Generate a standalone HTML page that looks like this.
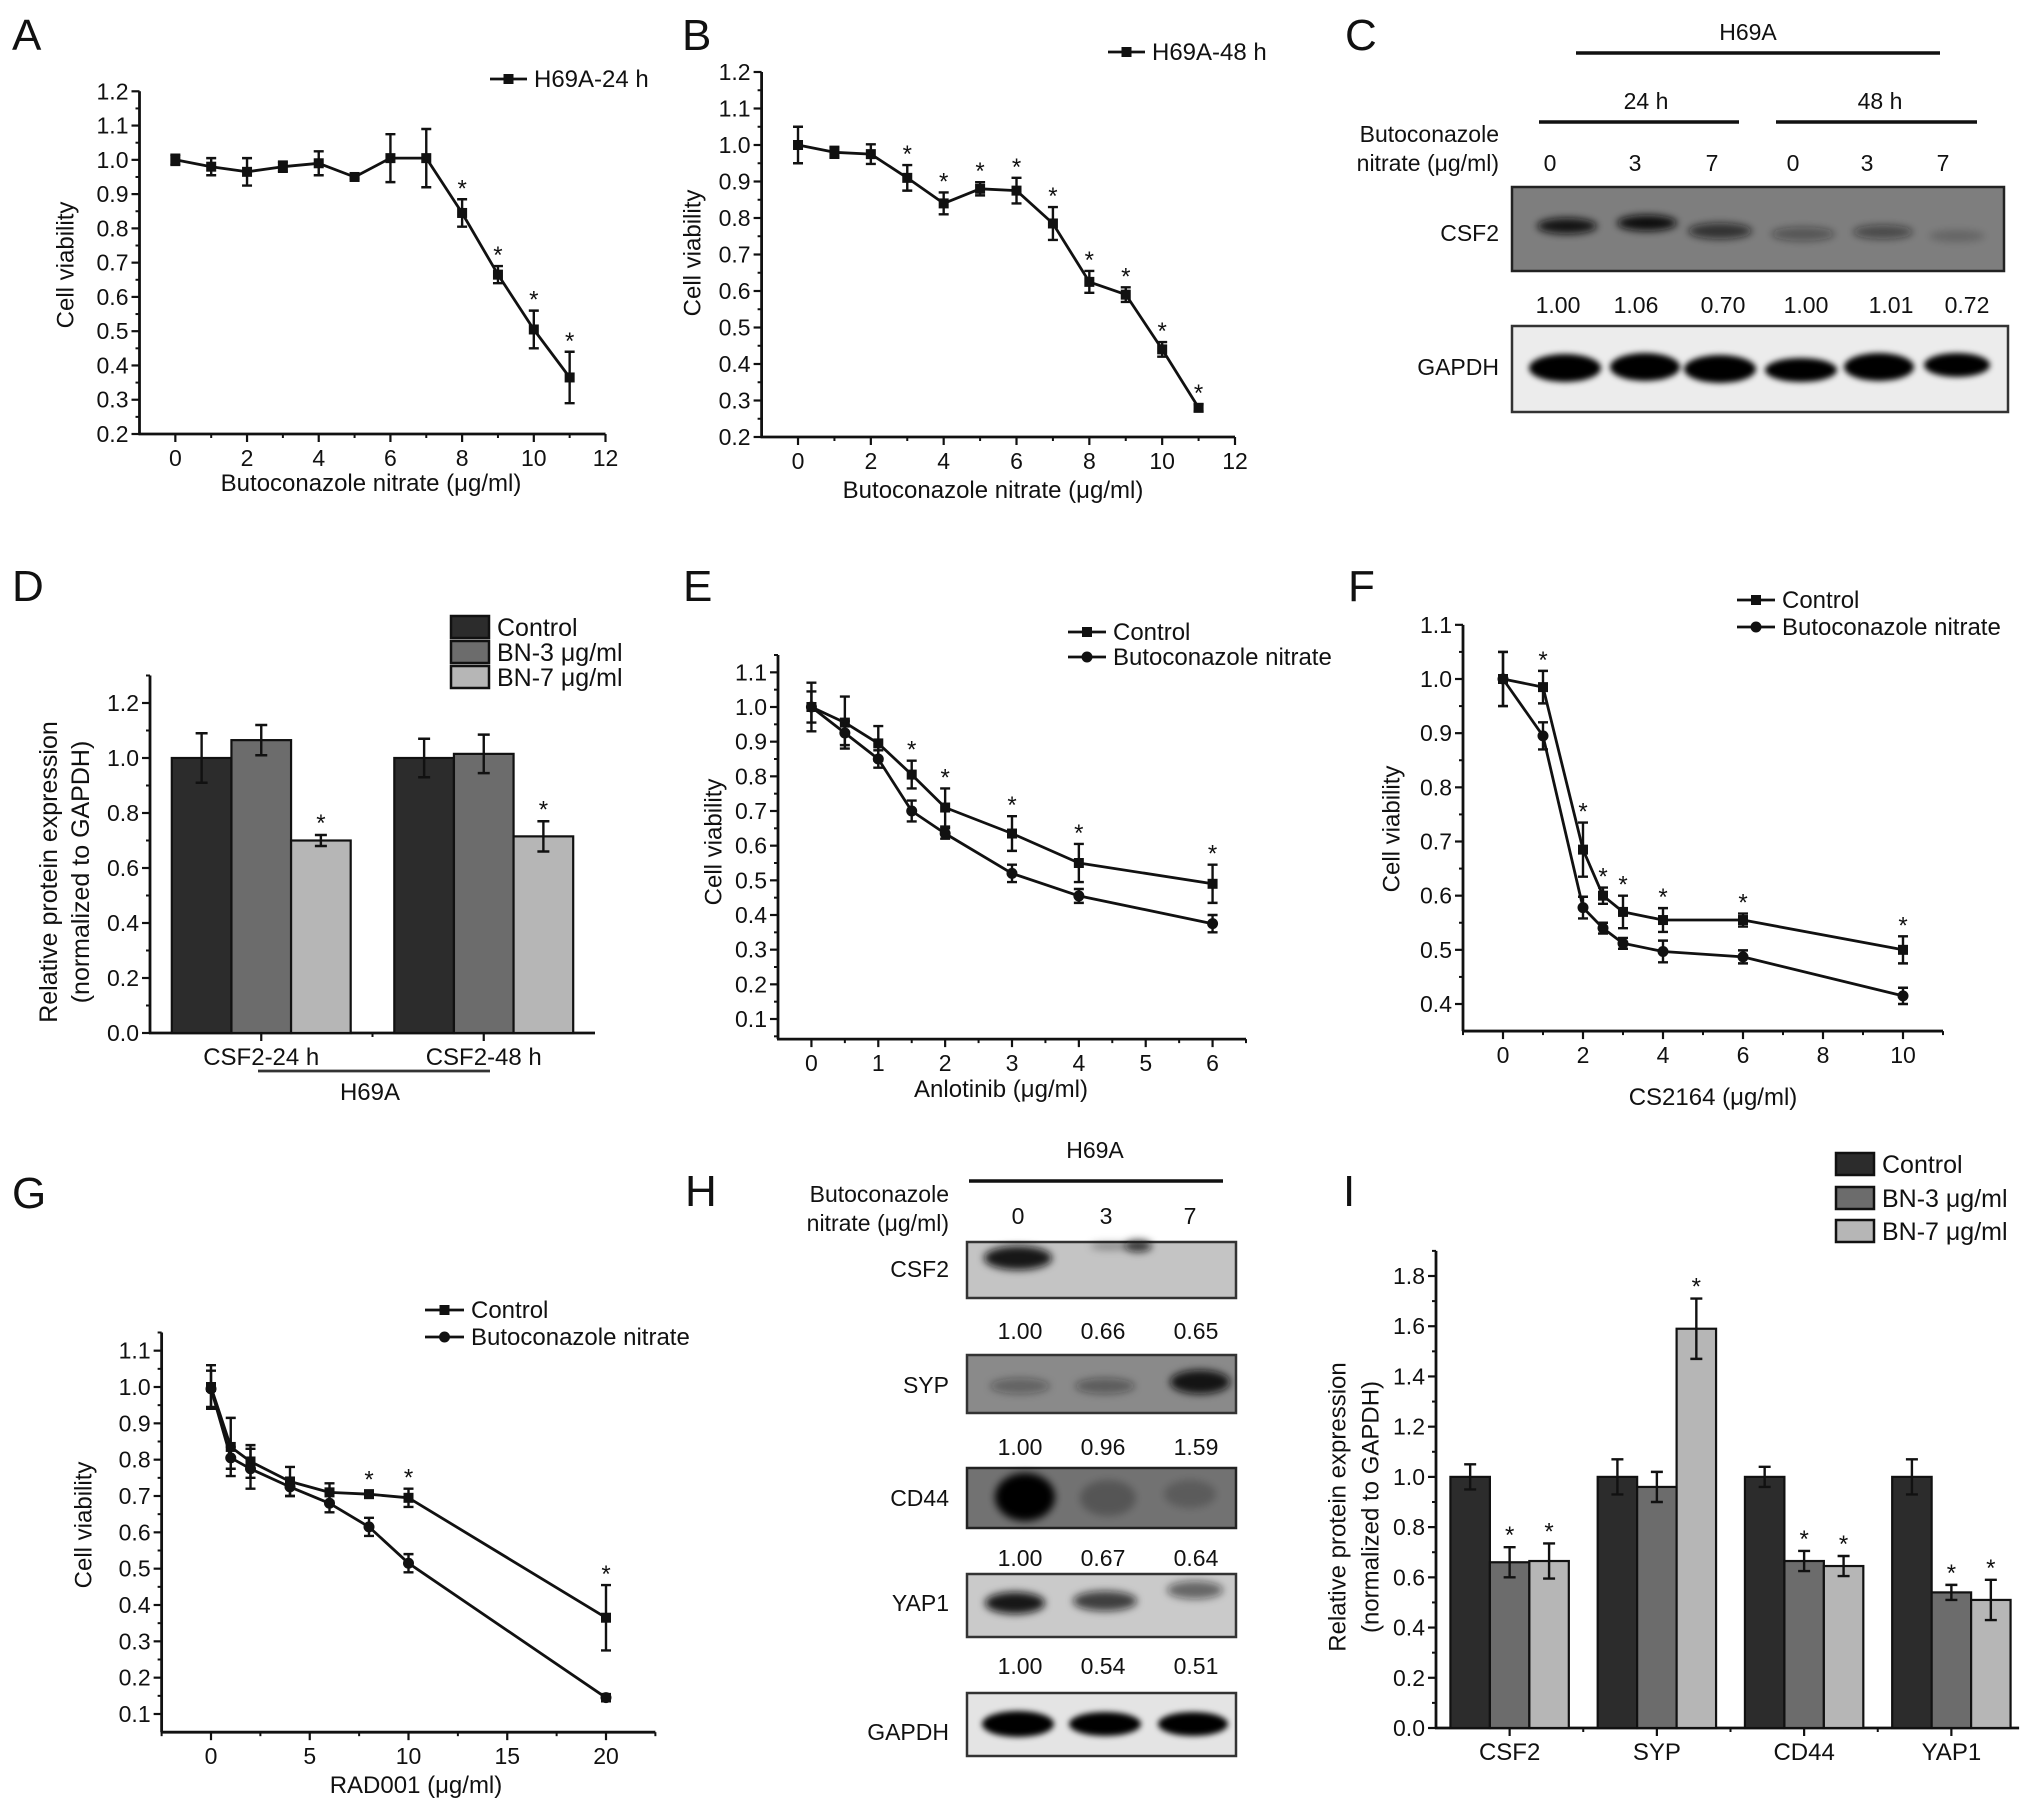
<!DOCTYPE html>
<html><head><meta charset="utf-8">
<style>
body{margin:0;background:#fff;}
svg{display:block;font-family:"Liberation Sans",Arial,sans-serif;}
</style></head>
<body>
<svg id="fig" width="2032" height="1802" viewBox="0 0 2032 1802">
<defs>
<filter id="blur4" x="-50%" y="-50%" width="200%" height="200%"><feGaussianBlur stdDeviation="4"/></filter>
<filter id="blur3" x="-50%" y="-50%" width="200%" height="200%"><feGaussianBlur stdDeviation="3"/></filter>
<filter id="blur6" x="-50%" y="-50%" width="200%" height="200%"><feGaussianBlur stdDeviation="6"/></filter>
</defs>
<rect x="0" y="0" width="2032" height="1802" fill="#fff"/>

<g font-size="44" fill="#111">
<text x="12" y="50">A</text>
<text x="682" y="50">B</text>
<text x="1345" y="50">C</text>
<text x="12" y="601">D</text>
<text x="683" y="601">E</text>
<text x="1348" y="601">F</text>
<text x="12" y="1208">G</text>
<text x="685" y="1206">H</text>
<text x="1343" y="1206">I</text>
</g>

<g font-size="23" fill="#111">
<text x="1748" y="40" text-anchor="middle">H69A</text>
<line x1="1576" y1="53" x2="1940" y2="53" stroke="#111" stroke-width="3.5"/>
<text x="1646" y="109" text-anchor="middle">24 h</text>
<text x="1880" y="109" text-anchor="middle">48 h</text>
<line x1="1539" y1="122" x2="1739" y2="122" stroke="#111" stroke-width="3.5"/>
<line x1="1776" y1="122" x2="1977" y2="122" stroke="#111" stroke-width="3.5"/>
<text x="1499" y="142" text-anchor="end">Butoconazole</text>
<text x="1499" y="171" text-anchor="end">nitrate (μg/ml)</text>
<g text-anchor="middle">
<text x="1550" y="171">0</text><text x="1635" y="171">3</text><text x="1712" y="171">7</text>
<text x="1793" y="171">0</text><text x="1867" y="171">3</text><text x="1943" y="171">7</text>
</g>
<rect x="1512" y="187" width="492" height="84" fill="#7e7e7e" stroke="#222" stroke-width="2.5"/>
<g filter="url(#blur4)" fill="#111">
<ellipse cx="1567" cy="226" rx="30" ry="8" opacity="0.95"/>
<ellipse cx="1647" cy="223" rx="30" ry="8" opacity="1"/>
<ellipse cx="1720" cy="231" rx="32" ry="8" opacity="0.7"/>
<ellipse cx="1803" cy="234" rx="32" ry="7" opacity="0.4"/>
<ellipse cx="1883" cy="232" rx="30" ry="7" opacity="0.5"/>
<ellipse cx="1957" cy="236" rx="28" ry="6" opacity="0.2"/>
</g>
<text x="1499" y="241" text-anchor="end">CSF2</text>
<g text-anchor="middle">
<text x="1558" y="313">1.00</text><text x="1636" y="313">1.06</text><text x="1723" y="313">0.70</text>
<text x="1806" y="313">1.00</text><text x="1891" y="313">1.01</text><text x="1967" y="313">0.72</text>
</g>
<rect x="1512" y="326" width="496" height="86" fill="#ececec" stroke="#333" stroke-width="2.5"/>
<g filter="url(#blur3)" fill="#000">
<ellipse cx="1565" cy="368" rx="36" ry="14"/>
<ellipse cx="1645" cy="367" rx="35" ry="14"/>
<ellipse cx="1720" cy="369" rx="36" ry="14"/>
<ellipse cx="1801" cy="370" rx="36" ry="12"/>
<ellipse cx="1879" cy="367" rx="35" ry="14"/>
<ellipse cx="1957" cy="365" rx="33" ry="12"/>
</g>
<text x="1499" y="375" text-anchor="end">GAPDH</text>
</g>

<g font-size="23" fill="#111">
<text x="1095" y="1158" text-anchor="middle">H69A</text>
<line x1="969" y1="1181" x2="1223" y2="1181" stroke="#111" stroke-width="3.5"/>
<text x="949" y="1202" text-anchor="end">Butoconazole</text>
<text x="949" y="1231" text-anchor="end">nitrate (μg/ml)</text>
<g text-anchor="middle">
<text x="1018" y="1224">0</text><text x="1106" y="1224">3</text><text x="1190" y="1224">7</text>
</g>
<rect x="967" y="1242" width="269" height="56" fill="#c4c4c4" stroke="#333" stroke-width="2.5"/>
<g filter="url(#blur4)" fill="#111">
<ellipse cx="1018" cy="1258" rx="34" ry="12" opacity="0.95"/>
<ellipse cx="1138" cy="1246" rx="14" ry="6" opacity="0.8"/>
<ellipse cx="1110" cy="1246" rx="20" ry="4" opacity="0.3"/>
</g>
<text x="949" y="1277" text-anchor="end">CSF2</text>
<g text-anchor="middle"><text x="1020" y="1339">1.00</text><text x="1103" y="1339">0.66</text><text x="1196" y="1339">0.65</text></g>
<rect x="967" y="1355" width="269" height="58" fill="#8a8a8a" stroke="#333" stroke-width="2.5"/>
<g filter="url(#blur4)" fill="#111">
<ellipse cx="1020" cy="1386" rx="30" ry="8" opacity="0.35"/>
<ellipse cx="1105" cy="1386" rx="30" ry="8" opacity="0.4"/>
<ellipse cx="1200" cy="1382" rx="30" ry="12" opacity="0.95"/>
</g>
<text x="949" y="1393" text-anchor="end">SYP</text>
<g text-anchor="middle"><text x="1020" y="1455">1.00</text><text x="1103" y="1455">0.96</text><text x="1196" y="1455">1.59</text></g>
<rect x="967" y="1468" width="269" height="60" fill="#727272" stroke="#222" stroke-width="2.5"/>
<g filter="url(#blur4)" fill="#000">
<ellipse cx="1025" cy="1497" rx="30" ry="24" opacity="1"/>
<ellipse cx="1108" cy="1498" rx="28" ry="18" opacity="0.25"/>
<ellipse cx="1190" cy="1494" rx="26" ry="14" opacity="0.2"/>
</g>
<text x="949" y="1506" text-anchor="end">CD44</text>
<g text-anchor="middle"><text x="1020" y="1566">1.00</text><text x="1103" y="1566">0.67</text><text x="1196" y="1566">0.64</text></g>
<rect x="967" y="1574" width="269" height="63" fill="#cacaca" stroke="#333" stroke-width="2.5"/>
<g filter="url(#blur4)" fill="#111">
<ellipse cx="1015" cy="1603" rx="30" ry="11" opacity="0.95"/>
<ellipse cx="1105" cy="1601" rx="32" ry="10" opacity="0.75"/>
<ellipse cx="1195" cy="1590" rx="28" ry="9" opacity="0.55"/>
</g>
<text x="949" y="1611" text-anchor="end">YAP1</text>
<g text-anchor="middle"><text x="1020" y="1674">1.00</text><text x="1103" y="1674">0.54</text><text x="1196" y="1674">0.51</text></g>
<rect x="967" y="1693" width="269" height="63" fill="#e4e4e4" stroke="#333" stroke-width="2.5"/>
<g filter="url(#blur3)" fill="#000">
<ellipse cx="1018" cy="1724" rx="36" ry="13"/>
<ellipse cx="1105" cy="1724" rx="36" ry="12"/>
<ellipse cx="1193" cy="1724" rx="35" ry="12"/>
</g>
<text x="949" y="1740" text-anchor="end">GAPDH</text>
</g>
</svg>

<script>
// ---------- Panel A data ----------
const aDose = [0,1,2,3,4,5,6,7,8,9,10,11];
const aViab = [1.0,0.98,0.965,0.98,0.99,0.95,1.005,1.005,0.845,0.665,0.505,0.365];
const aErr = [0.015,0.025,0.04,0.015,0.035,0.005,0.07,0.085,0.04,0.025,0.055,0.075];
const aStars = [8,9,10,11];
const aYTicks = ['0.2','0.3','0.4','0.5','0.6','0.7','0.8','0.9','1.0','1.1','1.2'];
const aXTicks = ['0','2','4','6','8','10','12'];
// ---------- Panel B data ----------
const bDose = [0,1,2,3,4,5,6,7,8,9,10,11];
const bViab = [1.0,0.98,0.975,0.91,0.84,0.88,0.875,0.785,0.625,0.59,0.44,0.28];
const bErr = [0.05,0.015,0.027,0.035,0.03,0.018,0.035,0.045,0.03,0.02,0.02,0.01];
const bStars = [3,4,5,6,7,8,9,10,11];
const bYTicks = ['0.2','0.3','0.4','0.5','0.6','0.7','0.8','0.9','1.0','1.1','1.2'];
const bXTicks = ['0','2','4','6','8','10','12'];
// ---------- Panel D data ----------
const dGroups = ['CSF2-24 h','CSF2-48 h'];
const dControl = [1.0,1.0];
const dBN3 = [1.065,1.015];
const dBN7 = [0.70,0.715];
const dControlErr = [0.09,0.07];
const dBN3Err = [0.055,0.07];
const dBN7Err = [0.02,0.055];
const dBN3Star = [0,0];
const dBN7Star = [1,1];
const dYTicks = ['0.0','0.2','0.4','0.6','0.8','1.0','1.2'];
// ---------- Panel E data ----------
const eDose = [0,0.5,1,1.5,2,3,4,6];
const eControl = [1.0,0.955,0.895,0.805,0.71,0.635,0.55,0.49];
const eControlErr = [0.07,0.075,0.05,0.04,0.055,0.05,0.055,0.055];
const eBN = [1.0,0.925,0.85,0.70,0.635,0.52,0.455,0.375];
const eBNErr = [0.045,0.035,0.025,0.03,0.015,0.025,0.02,0.025];
const eStars = [1.5,2,3,4,6];
const eYTicks = ['0.1','0.2','0.3','0.4','0.5','0.6','0.7','0.8','0.9','1.0','1.1'];
const eXTicks = ['0','1','2','3','4','5','6'];
// ---------- Panel F data ----------
const fDose = [0,1,2,2.5,3,4,6,10];
const fControl = [1.0,0.985,0.685,0.60,0.57,0.555,0.555,0.50];
const fControlErr = [0.05,0.03,0.05,0.015,0.03,0.022,0.012,0.025];
const fBN = [1.0,0.895,0.578,0.54,0.512,0.497,0.487,0.415];
const fBNErr = [0.05,0.025,0.02,0.01,0.01,0.02,0.012,0.015];
const fStars = [1,2,2.5,3,4,6,10];
const fYTicks = ['0.4','0.5','0.6','0.7','0.8','0.9','1.0','1.1'];
const fXTicks = ['0','2','4','6','8','10'];
// ---------- Panel G data ----------
const gDose = [0,1,2,4,6,8,10,20];
const gControl = [1.0,0.835,0.795,0.74,0.71,0.705,0.695,0.365];
const gControlErr = [0.06,0.08,0.045,0.04,0.025,0.01,0.025,0.09];
const gBN = [0.995,0.805,0.775,0.725,0.68,0.615,0.515,0.145];
const gBNErr = [0.05,0.03,0.055,0.025,0.025,0.025,0.025,0.01];
const gStars = [8,10,20];
const gYTicks = ['0.1','0.2','0.3','0.4','0.5','0.6','0.7','0.8','0.9','1.0','1.1'];
const gXTicks = ['0','5','10','15','20'];
// ---------- Panel I data ----------
const iGenes = ['CSF2','SYP','CD44','YAP1'];
const iControl = [1.0,1.0,1.0,1.0];
const iBN3 = [0.66,0.96,0.665,0.54];
const iBN7 = [0.665,1.59,0.645,0.51];
const iControlErr = [0.05,0.07,0.04,0.07];
const iBN3Err = [0.06,0.06,0.04,0.03];
const iBN7Err = [0.07,0.12,0.04,0.08];
const iBN3Star = [1,0,1,1];
const iBN7Star = [1,1,1,1];
const iYTicks = ['0.0','0.2','0.4','0.6','0.8','1.0','1.2','1.4','1.6','1.8'];

const NS = 'http://www.w3.org/2000/svg';
const fig = document.getElementById('fig');
const TICK = 23, TITLE = 24, LEG = 24;
function lin(d0,p0,d1,p1){ return v => p0 + (v-d0)*(p1-p0)/(d1-d0); }
function mk(parent, tag, attrs){
  const e = document.createElementNS(NS, tag);
  for (const k in attrs) e.setAttribute(k, attrs[k]);
  parent.appendChild(e);
  return e;
}
function txt(parent, x, y, s, size, anchor){
  const t = mk(parent, 'text', {x:x, y:y, 'font-size':size, 'text-anchor':anchor||'start', fill:'#111'});
  t.textContent = s;
  return t;
}
function group(name){
  const g = mk(fig, 'g', {});
  
  
  return g;
}
function rng(a,b,s){ const r=[]; for(let v=a; v<=b+1e-9; v+=s) r.push(Math.round(v*1000)/1000); return r; }

function axes(g, o){
  const ax = o.sx(o.x0), ay = o.sy(o.y0);
  const yl = mk(g,'line',{x1:ax,y1:o.sy(o.y1),x2:ax,y2:ay,stroke:'#111','stroke-width':2.8});
  
  
  const xl = mk(g,'line',{x1:ax-1,y1:ay,x2:o.sx(o.x1),y2:ay,stroke:'#111','stroke-width':2.8});
  
  
  o.yt.forEach(s => {
    const v = parseFloat(s), y = o.sy(v);
    const tk = mk(g,'line',{x1:ax-8,y1:y,x2:ax,y2:y,stroke:'#111','stroke-width':2.2});
    
    
    const lb = txt(g, ax-11, y+8, s, TICK, 'end');
    
    
  });
  (o.ym||[]).forEach(v => {
    const y = o.sy(v);
    const tk = mk(g,'line',{x1:ax-4,y1:y,x2:ax,y2:y,stroke:'#111','stroke-width':2});
    
    
  });
  o.xt.forEach((s,i) => {
    const v = o.xv ? o.xv[i] : parseFloat(s), x = o.sx(v);
    const tk = mk(g,'line',{x1:x,y1:ay,x2:x,y2:ay+8,stroke:'#111','stroke-width':2.2});
    
    
    const lb = txt(g, x, ay+32, s, o.xsize||TICK, 'middle');
    
    
  });
  (o.xm||[]).forEach(v => {
    const x = o.sx(v);
    const tk = mk(g,'line',{x1:x,y1:ay,x2:x,y2:ay+4,stroke:'#111','stroke-width':2});
    
    
  });
}
function ytitle(g, x, y, s, size){
  const t = mk(g,'text',{transform:`translate(${x},${y}) rotate(-90)`,'text-anchor':'middle','dominant-baseline':'central','font-size':size||TITLE,fill:'#111'});
  t.textContent = s;
  
  
}
function xtitle(g, x, y, s){
  const t = txt(g, x, y, s, TITLE, 'middle');
  
  
}
function marker(g, x, y, shape, name){
  let m;
  if (shape === 'sq') m = mk(g,'rect',{x:x-5,y:y-5,width:10,height:10,fill:'#111'});
  else m = mk(g,'circle',{cx:x,cy:y,r:5.5,fill:'#111'});
  
  
}
function series(g, sx, sy, xs, ys, es, shape, name){
  const d = xs.map((x,i)=>(i?'L':'M')+sx(x).toFixed(1)+' '+sy(ys[i]).toFixed(1)).join(' ');
  const p = mk(g,'path',{d:d,fill:'none',stroke:'#111','stroke-width':2.8,'stroke-linejoin':'round'});
  
  
  xs.forEach((x,i) => {
    const px = sx(x), yt = sy(ys[i]+es[i]), yb = sy(ys[i]-es[i]);
    const eb = mk(g,'path',{d:`M${px} ${yt} L${px} ${yb} M${px-5} ${yt} L${px+5} ${yt} M${px-5} ${yb} L${px+5} ${yb}`,stroke:'#111','stroke-width':2.4,fill:'none'});
    
    
    marker(g, px, sy(ys[i]), shape, name+'-point');
  });
}
function stars(g, sx, sy, xs, ys, es, starXs){
  starXs.forEach(sxv => {
    const i = xs.indexOf(sxv);
    if (i < 0) return;
    const t = txt(g, sx(sxv), sy(ys[i]+es[i]) - 3, '*', 24, 'middle');
    
    
  });
}
function legendLine(g, x1, x2, y, shape, label, name){
  const l = mk(g,'line',{x1:x1,y1:y,x2:x2,y2:y,stroke:'#111','stroke-width':2.8});
  
  
  marker(g, (x1+x2)/2, y, shape, name+'-marker');
  const t = txt(g, x2+7, y+8, label, LEG, 'start');
  
  
}
const barFill = ['#2c2c2c','#6c6c6c','#b6b6b6'];
function bars(g, sx, sy, cats, vals, errs, starsArr, name){
  const bw = 0.268;
  vals.forEach((arr, k) => {
    arr.forEach((v,i) => {
      const cx = i + (k-1)*bw;
      const x0 = sx(cx - bw/2), x1 = sx(cx + bw/2);
      const r = mk(g,'rect',{x:x0,y:sy(v),width:x1-x0,height:sy(0)-sy(v),fill:barFill[k],stroke:'#111','stroke-width':2.2});
      
      
      const px = sx(cx), yt = sy(v+errs[k][i]), yb = sy(v-errs[k][i]);
      const eb = mk(g,'path',{d:`M${px} ${yt} L${px} ${yb} M${px-6} ${yt} L${px+6} ${yt} M${px-6} ${yb} L${px+6} ${yb}`,stroke:'#111','stroke-width':2.4,fill:'none'});
      
      
      if (starsArr[k] && starsArr[k][i]) {
        const t = txt(g, px, yt-4, '*', 24, 'middle');
        
        
      }
    });
  });
}
function legendBox(g, x, y, fill, label, name){
  const r = mk(g,'rect',{x:x,y:y-11,width:38,height:22,fill:fill,stroke:'#111','stroke-width':2.5});
  
  
  const t = txt(g, x+46, y+9, label, 25, 'start');
  
  
}

// ===== Panel A =====
(function(){
  const g = group('panel-a-chart');
  const sx = lin(-1,139.5,12,605.5), sy = lin(0.2,434,1.2,91.3);
  axes(g,{sx,sy,x0:-1,x1:12,y0:0.2,y1:1.2,yt:aYTicks,ym:rng(0.25,1.15,0.1),xt:aXTicks,xm:rng(1,11,2)});
  series(g,sx,sy,aDose,aViab,aErr,'sq','h69a-24h');
  stars(g,sx,sy,aDose,aViab,aErr,aStars);
  legendLine(g,490,527,79,'sq','H69A-24 h','legend-h69a-24h');
  ytitle(g,66,265,'Cell viability');
  xtitle(g,371,491,'Butoconazole nitrate (μg/ml)');
})();
// ===== Panel B =====
(function(){
  const g = group('panel-b-chart');
  const sx = lin(-1,761.6,12,1235), sy = lin(0.2,437,1.2,72);
  axes(g,{sx,sy,x0:-1,x1:12,y0:0.2,y1:1.2,yt:bYTicks,ym:rng(0.25,1.15,0.1),xt:bXTicks,xm:rng(1,11,2)});
  series(g,sx,sy,bDose,bViab,bErr,'sq','h69a-48h');
  stars(g,sx,sy,bDose,bViab,bErr,bStars);
  legendLine(g,1108,1145,52,'sq','H69A-48 h','legend-h69a-48h');
  ytitle(g,693,253,'Cell viability');
  xtitle(g,993,498,'Butoconazole nitrate (μg/ml)');
})();
// ===== Panel D =====
(function(){
  const g = group('panel-d-chart');
  const sx = lin(-0.5,150,1.5,595), sy = lin(0,1033,1.2,703);
  axes(g,{sx,sy,x0:-0.5,x1:1.5,y0:0,y1:1.3,yt:dYTicks,ym:rng(0.1,1.3,0.2),xt:dGroups,xv:[0,1],xm:[0.5],xsize:24});
  bars(g,sx,sy,dGroups,[dControl,dBN3,dBN7],[dControlErr,dBN3Err,dBN7Err],[null,dBN3Star,dBN7Star],'d');
  const ul = mk(g,'line',{x1:258,y1:1071,x2:490,y2:1071,stroke:'#333','stroke-width':2.8});
  
  
  const h = txt(g,370,1100,'H69A',24,'middle');
  
  
  legendBox(g,451,627,barFill[0],'Control','legend-control');
  legendBox(g,451,652,barFill[1],'BN-3 μg/ml','legend-bn3');
  legendBox(g,451,677,barFill[2],'BN-7 μg/ml','legend-bn7');
  ytitle(g,49,872,'Relative protein expression',25);
  ytitle(g,81,872,'(normalized to GAPDH)',25);
})();
// ===== Panel E =====
(function(){
  const g = group('panel-e-chart');
  const sx = lin(-0.5,778,6.5,1246), sy = lin(0.1,1019,1.0,707);
  axes(g,{sx,sy,x0:-0.5,x1:6.5,y0:0.042,y1:1.15,yt:eYTicks,ym:rng(0.05,1.15,0.1),xt:eXTicks,xm:rng(0.5,6.5,1)});
  series(g,sx,sy,eDose,eControl,eControlErr,'sq','e-control');
  series(g,sx,sy,eDose,eBN,eBNErr,'ci','e-butoconazole');
  stars(g,sx,sy,eDose,eControl,eControlErr,eStars);
  legendLine(g,1068,1106,632,'sq','Control','legend-control');
  legendLine(g,1068,1106,657,'ci','Butoconazole nitrate','legend-butoconazole');
  ytitle(g,714,842,'Cell viability');
  xtitle(g,1001,1097,'Anlotinib (μg/ml)');
})();
// ===== Panel F =====
(function(){
  const g = group('panel-f-chart');
  const sx = lin(0,1503,10,1903), sy = lin(0.4,1004,1.0,679);
  axes(g,{sx,sy,x0:-1,x1:11,y0:0.35,y1:1.1,yt:fYTicks,ym:rng(0.45,1.05,0.1),xt:fXTicks,xm:rng(-1,11,2)});
  series(g,sx,sy,fDose,fControl,fControlErr,'sq','f-control');
  series(g,sx,sy,fDose,fBN,fBNErr,'ci','f-butoconazole');
  stars(g,sx,sy,fDose,fControl,fControlErr,fStars);
  legendLine(g,1737,1775,600,'sq','Control','legend-control');
  legendLine(g,1737,1775,627,'ci','Butoconazole nitrate','legend-butoconazole');
  ytitle(g,1392,829,'Cell viability');
  xtitle(g,1713,1105,'CS2164 (μg/ml)');
})();
// ===== Panel G =====
(function(){
  const g = group('panel-g-chart');
  const sx = lin(0,211,20,606), sy = lin(0.1,1714,1.0,1387);
  axes(g,{sx,sy,x0:-2.5,x1:22.5,y0:0.05,y1:1.15,yt:gYTicks,ym:rng(0.15,1.15,0.1),xt:gXTicks,xm:rng(-2.5,22.5,5)});
  series(g,sx,sy,gDose,gControl,gControlErr,'sq','g-control');
  series(g,sx,sy,gDose,gBN,gBNErr,'ci','g-butoconazole');
  stars(g,sx,sy,gDose,gControl,gControlErr,gStars);
  legendLine(g,425,464,1310,'sq','Control','legend-control');
  legendLine(g,425,464,1337,'ci','Butoconazole nitrate','legend-butoconazole');
  ytitle(g,84,1525,'Cell viability');
  xtitle(g,416,1793,'RAD001 (μg/ml)');
})();
// ===== Panel I =====
(function(){
  const g = group('panel-i-chart');
  const sx = lin(-0.5,1436,3.5,2025), sy = lin(0,1728,1.8,1276);
  axes(g,{sx,sy,x0:-0.5,x1:3.46,y0:0,y1:1.9,yt:iYTicks,ym:rng(0.1,1.9,0.2),xt:iGenes,xv:[0,1,2,3],xm:[0.5,1.5,2.5],xsize:24});
  bars(g,sx,sy,iGenes,[iControl,iBN3,iBN7],[iControlErr,iBN3Err,iBN7Err],[null,iBN3Star,iBN7Star],'i');
  legendBox(g,1836,1164,barFill[0],'Control','legend-control');
  legendBox(g,1836,1198,barFill[1],'BN-3 μg/ml','legend-bn3');
  legendBox(g,1836,1231,barFill[2],'BN-7 μg/ml','legend-bn7');
  ytitle(g,1338,1507,'Relative protein expression',24);
  ytitle(g,1371,1507,'(normalized to GAPDH)',24);
})();
</script>
</body></html>
